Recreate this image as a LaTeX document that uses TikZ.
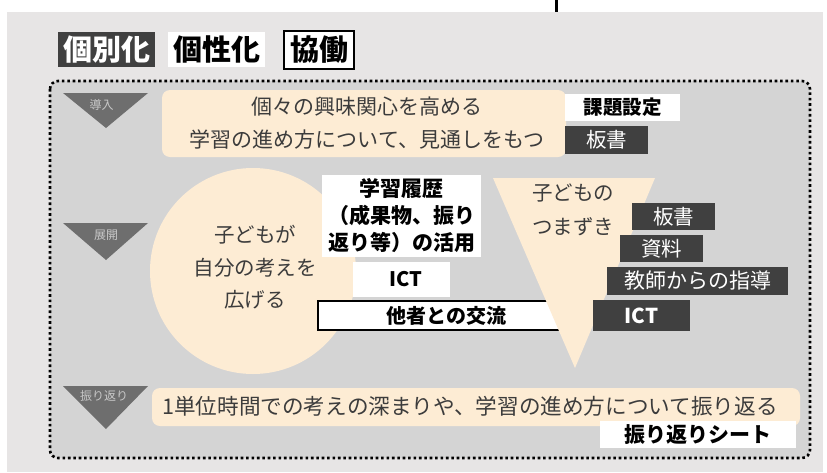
\documentclass[tikz,border=0pt]{standalone}
\usepackage{fontspec}
\newfontfamily\cjk{Noto Sans CJK JP}
\definecolor{outerbg}{RGB}{231,229,229}
\definecolor{panelbg}{RGB}{212,212,212}
\definecolor{beige}{RGB}{253,236,212}
\definecolor{darkbox}{RGB}{64,64,64}
\definecolor{trigrey}{RGB}{110,110,110}
\definecolor{trilabel}{RGB}{200,200,200}
\definecolor{bodytext}{RGB}{60,60,60}
\tikzset{
  txt/.style={font=\cjk\fontsize{21}{33}\selectfont, text=bodytext, inner sep=0pt, align=center},
  whitebox/.style={fill=white, inner sep=0pt, font=\cjk\bfseries\fontsize{20}{27}\selectfont, text=black, align=center},
  darkboxst/.style={fill=darkbox, inner sep=0pt, font=\cjk\fontsize{20.5}{27}\selectfont, text=white, align=center},
  beigebox/.style={fill=beige, rounded corners=8pt},
  stagetri/.style={fill=trigrey},
  stagelabel/.style={font=\cjk\fontsize{12}{12}\selectfont, text=trilabel, inner sep=0pt},
  titlefont/.style={font=\cjk\bfseries\fontsize{29}{30}\selectfont, inner sep=0pt}
}
\begin{document}
\begin{tikzpicture}[x=1pt,y=-1pt]
\useasboundingbox (0,0) rectangle (827,472);
\fill[white] (0,0) rectangle (827,472);
\fill[outerbg] (7,12) rectangle (823,472);
\draw[black, line width=3pt] (556,0) -- (556,12);

% titles
\node[titlefont, fill=darkbox, text=white, minimum width=97pt, minimum height=35pt] (tko) at (106.5,49.5) {個別化};
\node[titlefont, fill=white, text=black, minimum width=97pt, minimum height=35pt] (tks) at (216.5,49.5) {個性化};
\node[titlefont, fill=white, text=black, draw=black, line width=2.5pt, minimum width=70pt, minimum height=38pt] (tkd) at (319,50) {協働};

% panel
\filldraw[fill=panelbg, draw=black, line width=2.6pt, dash pattern=on 2.6pt off 2.8pt, rounded corners=8pt] (50,81) rectangle (810,458);

% stage triangles
\fill[stagetri] (63,93) -- (148,93) -- (106,128) -- cycle;
\node[stagelabel] (l1) at (101.5,105) {導入};
\fill[stagetri] (63,223) -- (148,223) -- (106,260) -- cycle;
\node[stagelabel] (l2) at (106,235) {展開};
\fill[stagetri] (63,386) -- (148,386) -- (106,429) -- cycle;
\node[stagelabel] (l3) at (104,396) {振り返り};

% introduction
\node[beigebox, minimum width=404pt, minimum height=67pt] (b1) at (364,123.5) {};
\node[txt] (t1) at (367,123.5) {個々の興味関心を高める\\学習の進め方について、見通しをもつ};
\node[whitebox, font=\cjk\bfseries\fontsize{19.5}{20}\selectfont, minimum width=115pt, minimum height=27pt] (kadai) at (622.5,107.5) {課題設定};
\node[darkboxst, minimum width=83pt, minimum height=28pt] (ban1) at (606.5,140) {板書};

% development: circle
\fill[beige] (253,271) circle (103pt);
\node[txt, font=\cjk\fontsize{20.5}{32.5}\selectfont] (ctext) at (255,267.5) {子どもが\\自分の考えを\\広げる};

\node[whitebox, minimum width=159pt, minimum height=82pt, font=\cjk\bfseries\fontsize{21}{27}\selectfont] (rireki) at (401.5,216) {学習履歴\\（成果物、振り\\返り等）の活用};
\node[whitebox, minimum width=97pt, minimum height=35pt] (ict1) at (401.5,279.5) {\hspace*{8pt}ICT};
\node[whitebox, draw=black, line width=2pt, minimum width=257pt, minimum height=29pt] (koryu) at (446.5,315.5) {他者との交流};

% development: inverted triangle
\fill[beige] (493,178) -- (655,178) -- (575,368) -- cycle;
\node[txt, font=\cjk\fontsize{20.5}{34}\selectfont, align=left, anchor=west] (tsuma) at (532,210) {子どもの\\つまずき};
\node[darkboxst, minimum width=83pt, minimum height=27pt] (ban2) at (673.5,216.5) {板書};
\node[darkboxst, minimum width=83pt, minimum height=27pt] (shiryo) at (661.5,248.5) {資料};
\node[darkboxst, font=\cjk\fontsize{21}{27}\selectfont, minimum width=181pt, minimum height=28pt] (shido) at (697.5,281) {教師からの指導};
\node[darkboxst, font=\cjk\bfseries\fontsize{20.5}{27}\selectfont, minimum width=97pt, minimum height=31pt] (ict2) at (641.5,315.5) {ICT};

% reflection
\node[beigebox, minimum width=648pt, minimum height=38pt] (b3) at (476,407) {};
\node[txt, font=\cjk\fontsize{21.6}{22}\selectfont] (t3) at (470,406) {1単位時間での考えの深まりや、学習の進め方について振り返る};
\node[whitebox, font=\cjk\bfseries\fontsize{21}{22}\selectfont, minimum width=196pt, minimum height=27pt] (sheet) at (698,434.5) {振り返りシート};
\end{tikzpicture}
\end{document}
